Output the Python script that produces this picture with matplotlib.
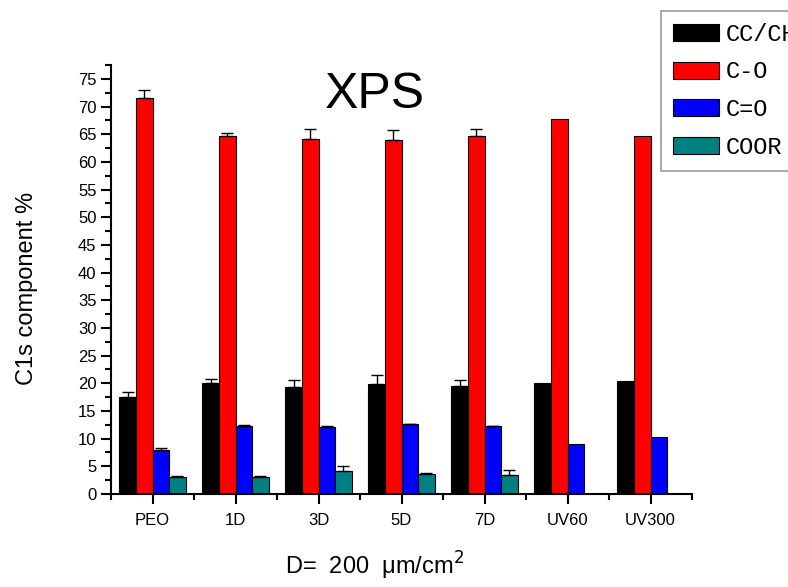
import numpy as np
import matplotlib
matplotlib.use('Agg')
from matplotlib import pyplot as plt
from matplotlib.ticker import MultipleLocator, FixedLocator

plt.rcParams['font.family'] = ['Liberation Sans', 'DejaVu Sans']

### Data
samples = ['PEO', '1D', '3D', '5D', '7D', 'UV60', 'UV300']
components = ['CC/CH', 'C-O', 'C=O', 'COOR']
colors = ['#000000', '#ff0000', '#0000ff', '#008080']

cc_ch = [17.6, 20.0, 19.4, 19.9, 19.6, 20.0, 20.5]
c_o = [71.5, 64.6, 64.2, 64.0, 64.6, 67.7, 64.7]
c_eq_o = [7.95, 12.35, 12.17, 12.6, 12.2, 8.97, 10.36]
coor = [3.13, 3.13, 4.2, 3.55, 3.43, np.nan, np.nan]

cc_ch_err = [0.9, 0.7, 1.2, 1.6, 1.0, np.nan, np.nan]
c_o_err = [1.5, 0.6, 1.8, 1.7, 1.3, np.nan, np.nan]
c_eq_o_err = [0.3, 0.15, 0.13, 0.1, 0.15, np.nan, np.nan]
coor_err = [0.17, 0.17, 0.86, 0.17, 0.87, np.nan, np.nan]

values = [cc_ch, c_o, c_eq_o, coor]
errors = [cc_ch_err, c_o_err, c_eq_o_err, coor_err]

# ----------------------------------------------------------------------------

W, H = 788, 587
fig = plt.figure(figsize=(W/100., H/100.), dpi=100)
ax = fig.add_axes([111./W, 1-494./H, 581./W, (494.-65.)/H])

x = np.arange(len(samples))
width = 0.2
offsets = [-0.3, -0.1, 0.1, 0.3]

for i in range(len(components)):
    v = np.array(values[i], dtype=float)
    e = np.array(errors[i], dtype=float)
    ok = np.isfinite(v)
    ax.bar(x[ok] + offsets[i], v[ok], width, color=colors[i],
           edgecolor='black', linewidth=0.8, label=components[i], zorder=2)
    ok_e = ok & np.isfinite(e)
    # only the upper half of the error bar, Origin style
    ax.errorbar(x[ok_e] + offsets[i], v[ok_e],
                yerr=[np.zeros(ok_e.sum()), e[ok_e]], fmt='none',
                ecolor='black', elinewidth=1.0, capsize=4, capthick=1.0,
                zorder=3)
###i

ax.set_xlim(-0.5, 6.5)
ax.set_ylim(0, 77.5)

for s in ['top', 'right']:
    ax.spines[s].set_visible(False)
for s in ['left', 'bottom']:
    ax.spines[s].set_linewidth(1.5)

ax.set_xticks(x)
ax.set_xticklabels(samples)
ax.xaxis.set_minor_locator(FixedLocator(np.arange(-0.5, 7.0, 1.0)))
ax.yaxis.set_major_locator(MultipleLocator(5))
ax.yaxis.set_minor_locator(MultipleLocator(2.5))
ax.tick_params(axis='both', which='major', direction='out', length=7,
               width=1.5, labelsize=12)
ax.tick_params(axis='both', which='minor', direction='out', length=4,
               width=1.5)
ax.tick_params(axis='x', which='major', pad=7)

ax.set_title('XPS', fontsize=36, x=(375.-111.)/581., y=1.0, pad=-31)

fig.text(27./W, 1-288./H, 'C1s component %', rotation=90, ha='center',
         va='center', fontsize=17)
fig.text(374./W, 1-566./H, 'D=  200  \u03bcm/cm$^{2}$', ha='center',
         va='center', fontsize=17)

leg = fig.legend(loc='upper left', bbox_to_anchor=(661./W, 1-11./H),
                 borderaxespad=0, frameon=True, fancybox=False,
                 prop={'family': 'Liberation Mono', 'size': 17},
                 handlelength=1.95, handleheight=0.72, handletextpad=0.3,
                 labelspacing=0.62, borderpad=0.5)
leg.get_frame().set_edgecolor('#808080')
leg.get_frame().set_linewidth(1.2)

fig.savefig('out.png', dpi=100)
